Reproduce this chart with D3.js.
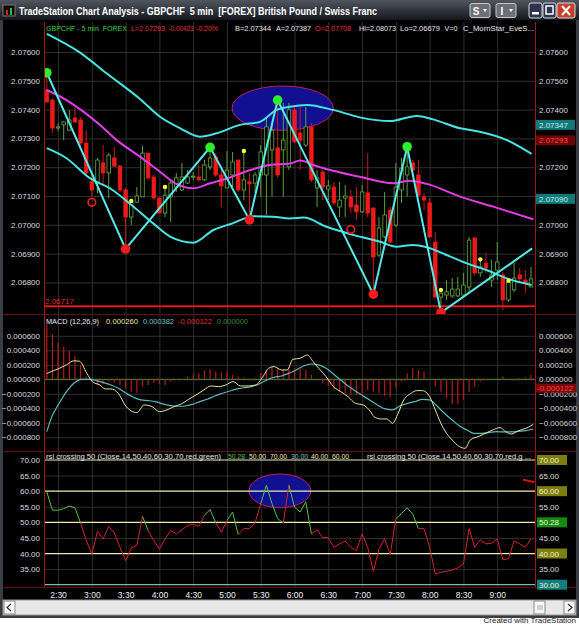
<!DOCTYPE html>
<html>
<head>
<meta charset="utf-8">
<script src="https://cdn.jsdelivr.net/npm/d3@7"></script>
<style>
body { margin: 0; background: #fff; overflow: hidden; }
svg text { font-family: "Liberation Sans", Arial, sans-serif; white-space: pre; }
</style>
</head>
<body>
<div id="chart"></div>
<script>
// ---- data ----
const tickLabels = ['2:30', '3:00', '3:30', '4:00', '4:30', '5:00', '5:30', '6:00', '6:30', '7:00', '7:30', '8:00', '8:30', '9:00'];
const tickBars = [2, 8, 14, 20, 26, 32, 38, 44, 50, 56, 62, 68, 74, 80];

const candleOpen = [
  2.07468, 2.07433, 2.07336, 2.07347, 2.07329, 2.07371, 2.07364, 2.07284, 2.07149, 2.07145,
  2.07215, 2.07180, 2.07232, 2.07204, 2.07121, 2.07027, 2.07079, 2.07097, 2.07249, 2.07166,
  2.07093, 2.07041, 2.07097, 2.07131, 2.07121, 2.07145, 2.07166, 2.07166, 2.07156, 2.07201,
  2.07236, 2.07173, 2.07128, 2.07173, 2.07225, 2.07121, 2.07149, 2.07145, 2.07173, 2.07173,
  2.07260, 2.07267, 2.07260, 2.07201, 2.07399, 2.07319, 2.07277, 2.07340, 2.07128, 2.07183,
  2.07124, 2.07131, 2.07062, 2.07093, 2.07097, 2.07069, 2.07045, 2.07111, 2.07058, 2.06895,
  2.06958, 2.07051, 2.06999, 2.07121, 2.07173, 2.07215, 2.07173, 2.07097, 2.07076, 2.06940,
  2.06749, 2.06756, 2.06753, 2.06753, 2.06756, 2.06784, 2.06954, 2.06833, 2.06867, 2.06808,
  2.06843, 2.06826, 2.06739, 2.06774, 2.06826, 2.06808, 2.06784];
const candleHigh = [
  2.07527, 2.07440, 2.07353, 2.07360, 2.07399, 2.07409, 2.07374, 2.07329, 2.07173, 2.07232,
  2.07277, 2.07249, 2.07270, 2.07208, 2.07128, 2.07083, 2.07131, 2.07274, 2.07249, 2.07173,
  2.07097, 2.07131, 2.07156, 2.07180, 2.07215, 2.07190, 2.07183, 2.07208, 2.07225, 2.07270,
  2.07249, 2.07190, 2.07256, 2.07253, 2.07225, 2.07256, 2.07180, 2.07183, 2.07277, 2.07374,
  2.07353, 2.07433, 2.07423, 2.07423, 2.07409, 2.07409, 2.07409, 2.07353, 2.07190, 2.07190,
  2.07156, 2.07149, 2.07149, 2.07138, 2.07121, 2.07131, 2.07138, 2.07249, 2.07062, 2.07027,
  2.07114, 2.07062, 2.07215, 2.07232, 2.07270, 2.07225, 2.07225, 2.07110, 2.07093, 2.06975,
  2.06774, 2.06808, 2.06815, 2.06819, 2.06833, 2.06958, 2.06958, 2.06882, 2.06902, 2.06878,
  2.06940, 2.06836, 2.06808, 2.06867, 2.06850, 2.06843, 2.06854];
const candleLow = [
  2.07423, 2.07319, 2.07326, 2.07294, 2.07326, 2.07353, 2.07277, 2.07173, 2.07097, 2.07110,
  2.07138, 2.07093, 2.07201, 2.07114, 2.06926, 2.06999, 2.07076, 2.07097, 2.07156, 2.07086,
  2.07038, 2.07027, 2.07010, 2.07114, 2.07117, 2.07142, 2.07156, 2.07149, 2.07152, 2.07190,
  2.07166, 2.07062, 2.07128, 2.07131, 2.07114, 2.07086, 2.07031, 2.07110, 2.07097, 2.07034,
  2.07097, 2.07163, 2.07097, 2.07190, 2.07284, 2.07190, 2.07270, 2.07149, 2.07062, 2.07086,
  2.07086, 2.07069, 2.07027, 2.07027, 2.07041, 2.07017, 2.07041, 2.07027, 2.06774, 2.06888,
  2.06954, 2.06937, 2.06993, 2.07076, 2.07097, 2.07166, 2.07097, 2.07051, 2.06954, 2.06746,
  2.06697, 2.06739, 2.06746, 2.06749, 2.06749, 2.06763, 2.06826, 2.06819, 2.06833, 2.06784,
  2.06808, 2.06704, 2.06732, 2.06767, 2.06801, 2.06763, 2.06784];
const candleClose = [
  2.07427, 2.07336, 2.07340, 2.07357, 2.07364, 2.07357, 2.07284, 2.07180, 2.07121, 2.07225,
  2.07180, 2.07242, 2.07204, 2.07121, 2.07027, 2.07079, 2.07100, 2.07249, 2.07163, 2.07093,
  2.07041, 2.07103, 2.07145, 2.07163, 2.07166, 2.07166, 2.07169, 2.07156, 2.07208, 2.07232,
  2.07173, 2.07135, 2.07190, 2.07218, 2.07121, 2.07156, 2.07142, 2.07173, 2.07253, 2.07340,
  2.07329, 2.07173, 2.07294, 2.07399, 2.07288, 2.07294, 2.07340, 2.07156, 2.07163, 2.07131,
  2.07135, 2.07076, 2.07086, 2.07100, 2.07062, 2.07045, 2.07114, 2.07041, 2.06888, 2.06989,
  2.07034, 2.06940, 2.07131, 2.07197, 2.07201, 2.07190, 2.07103, 2.07086, 2.06958, 2.06749,
  2.06763, 2.06767, 2.06777, 2.06777, 2.06791, 2.06947, 2.06833, 2.06854, 2.06850, 2.06826,
  2.06871, 2.06739, 2.06801, 2.06815, 2.06812, 2.06798, 2.06812];

// [bar, price] samples
const upperBand = [[0, 2.07663], [5.9, 2.07598], [10.6, 2.07526], [16.6, 2.07436], [20.1, 2.07375], [23.7, 2.07335],
  [27.2, 2.07306], [30.2, 2.07318], [34.3, 2.07347], [37.9, 2.07358], [40.8, 2.07399], [43.2, 2.07410], [46.2, 2.07416],
  [50.8, 2.07399], [55.6, 2.07373], [60.9, 2.07360], [65.7, 2.07378], [68.6, 2.07366], [73.4, 2.07335], [76.9, 2.07323],
  [81.7, 2.07294], [86.1, 2.07246]];
const lowerBand = [[0, 2.07266], [3.5, 2.07231], [7.7, 2.07161], [11.2, 2.07127], [15.4, 2.07063], [18.9, 2.07005],
  [21.9, 2.06959], [26, 2.06938], [29.6, 2.06982], [33, 2.07005], [36.7, 2.07030], [40.2, 2.07028], [43.2, 2.07022],
  [45.6, 2.07025], [49.7, 2.06993], [54.4, 2.06965], [59.2, 2.06941], [62.1, 2.06924], [65, 2.06930], [67.5, 2.06922],
  [71, 2.06895], [74.6, 2.06866], [78.1, 2.06843], [81.7, 2.06814], [86.1, 2.06791]];
const avgLine = [[0, 2.07468], [3.5, 2.07433], [6.5, 2.07393], [9.4, 2.07347], [12.4, 2.07294], [16.6, 2.07236],
  [20.1, 2.07184], [23, 2.07142], [26, 2.07127], [29, 2.07144], [32, 2.07161], [35.5, 2.07186], [39.6, 2.07208],
  [43.2, 2.07213], [45, 2.07223], [47.3, 2.07208], [50.3, 2.07190], [55.6, 2.07167], [61.5, 2.07144], [64.5, 2.07153],
  [67.5, 2.07142], [73.4, 2.07098], [79.3, 2.07063], [86.4, 2.07019]];
const zigzag = [[0, 2.07528], [14, 2.06916], [29, 2.07269], [36, 2.07017], [41, 2.07433], [58, 2.06759],
  [64, 2.07271], [70, 2.06695], [86.2, 2.06918]];
const swingHighBars = [0, 29, 41, 64];
const swingLowBars = [14, 36, 58, 70];
const ringMarks = [[8, 2.07078], [54, 2.06984]];
const yellowMarks = [[15, 2.07083], [21, 2.07131], [35, 2.07256], [70, 2.06774], [77, 2.06880], [82, 2.06806]];
const supportLevel = 2.06717;
const mainHighlight = { bar: 41.9, price: 2.07405, bars: 9, span: 0.00077 };

// MACD, units of 0.0001
const macdLine = [[0, 0.8], [0.9, 1.1], [2.2, 1.5], [3.5, 2.0], [4.8, 2.55], [5.8, 2.5], [7.1, 0.83], [8.1, -0.32],
  [9.4, -0.78], [10.4, -1.33], [11.4, -1.33], [12.7, -1.93], [14.1, -3.77], [16.0, -4.6], [17.3, -3.54], [18.7, -3.77],
  [20.0, -4.46], [21.3, -4.23], [22.6, -3.77], [23.9, -3.40], [25.2, -2.76], [26.5, -2.16], [27.9, -1.47], [29.2, -0.92],
  [30.5, -1.01], [31.8, -0.78], [33.1, -0.32], [34.4, -0.92], [35.8, -0.92], [37.1, -0.78], [38.4, 0.37], [39.4, 1.52],
  [40.4, 1.75], [41.7, 1.29], [42.7, 1.29], [43.7, 2.76], [45.0, 2.90], [46.3, 3.36], [47.3, 2.44], [48.3, 1.52],
  [49.6, 0.37], [50.9, -1.01], [52.2, -1.70], [53.5, -2.39], [54.8, -3.31], [56.2, -3.54], [57.5, -4.46], [58.1, -5.15],
  [59.4, -5.47], [60.4, -5.47], [61.4, -6.07], [62.4, -4.69], [63.4, -2.85], [64.7, -1.93], [65.7, -1.56], [66.7, -1.56],
  [68.0, -2.39], [69.0, -4.23], [70.0, -6.07], [71.0, -7.45], [72.0, -8.37], [73.3, -9.29], [74.3, -9.52], [75.2, -8.37],
  [76.6, -7.91], [77.9, -7.45], [79.2, -6.99], [80.5, -6.67], [81.5, -7.22], [82.5, -7.54], [83.8, -7.08], [85.1, -6.76],
  [86.4, -6.21]];
const signalLine = [[0, -7.22], [0.9, -5.15], [2.2, -3.31], [3.5, -1.70], [4.8, -0.55], [6.2, 0], [7.5, 0], [8.8, -0.18],
  [10.1, -0.46], [11.4, -0.78], [12.7, -1.24], [14.1, -1.93], [15.4, -2.48], [16.7, -2.85], [18.0, -2.94], [19.3, -3.08],
  [20.6, -3.40], [21.9, -3.63], [23.3, -3.72], [24.6, -3.68], [25.9, -3.45], [27.2, -3.08], [28.5, -2.76], [29.8, -2.30],
  [31.2, -1.93], [32.5, -1.61], [33.8, -1.33], [35.1, -1.15], [36.4, -1.01], [37.7, -0.64], [39.1, -0.09], [40.4, 0.28],
  [41.7, 0.46], [43.0, 0.83], [44.3, 1.29], [45.6, 1.84], [46.9, 2.11], [48.3, 1.98], [49.6, 1.52], [50.9, 0.74],
  [52.2, -0.09], [53.5, -0.92], [54.8, -1.61], [56.2, -2.30], [57.5, -2.94], [58.8, -3.59], [60.1, -4.09], [61.4, -4.23],
  [62.7, -3.68], [64.1, -3.31], [65.4, -3.08], [66.7, -2.76], [68.0, -2.85], [69.3, -3.68], [70.6, -4.69], [72.0, -5.61],
  [73.3, -6.44], [74.6, -6.99], [75.9, -7.45], [77.2, -7.45], [78.5, -7.36], [79.8, -7.22], [81.2, -7.26], [82.5, -7.26],
  [83.8, -7.17], [85.1, -7.08], [86.4, -6.85]];
const macdHist = [
  7.49, 6.25, 5.06, 4.51, 3.95, 3.22, 1.98, 0.37, -0.32, -0.78,
  -0.64, -0.32, -0.46, -0.78, -1.24, -1.70, -1.84, -1.01, -0.78, -0.46,
  -0.64, -0.78, -0.32, -0.09, -0.09, 0.37, 0.60, 0.83, 1.20, 1.38,
  1.06, 0.92, 1.06, 0.60, 0.37, 0.23, -0.09, 0.14, 0.83, 1.29,
  1.75, 1.52, 1.29, 1.66, 1.52, 1.38, 1.29, 0.60, -0.18, -0.55,
  -0.92, -1.38, -1.70, -1.93, -2.16, -2.16, -1.93, -1.47, -1.70, -1.93,
  -2.30, -2.48, -1.24, -0.32, 0.83, 1.52, 1.29, 1.06, -0.09, -1.01,
  -1.70, -2.62, -3.40, -3.40, -2.85, -1.70, -1.01, -0.32, -0.09, 0,
  0, 0.37, -0.09, -0.18, 0.14, 0.23, 0.60];
const macdTicks = [0.0006, 0.0004, 0.0002, 0, -0.0002, -0.0004, -0.0006, -0.0008];

const rsiValues = [
  59.8, 53.9, 53.9, 54.4, 55.2, 54.7, 49.8, 44.2, 39.9, 47.1,
  44.7, 48.7, 46.6, 42.0, 37.7, 41.7, 42.6, 51.9, 47.4, 44.2,
  41.5, 44.7, 47.4, 46.3, 47.6, 49.0, 49.4, 48.7, 52.3, 54.1,
  49.9, 46.9, 50.6, 53.3, 46.1, 48.0, 48.0, 49.9, 56.0, 61.9,
  56.0, 51.2, 49.8, 61.9, 54.9, 53.3, 56.6, 46.3, 47.6, 45.1,
  45.1, 42.0, 43.1, 44.0, 42.0, 41.0, 46.3, 42.0, 34.3, 41.5,
  44.7, 39.7, 51.2, 52.8, 54.7, 52.6, 48.0, 48.0, 42.0, 33.4,
  34.0, 34.3, 34.7, 35.4, 36.7, 48.0, 42.0, 44.4, 43.1, 43.3,
  44.7, 38.0, 38.3, 44.0, 43.1, 42.0, 44.7];
const rsiLevels = [70, 60, 50, 40];
const rsiTicks = [70, 65, 60, 55, 50, 45, 40, 35, 30];
const rsiHighlight = { bar: 41.4, value: 60.1, bars: 5.5, span: 5.4 };
const rsiStub = [[84.6, 63.7], [86.6, 62.9]];

// ---- layout ----
const W = 579, H = 625;
const plotL = 44, plotR = 535;
const panels = {
  main: { top: 22, bottom: 314 },
  macd: { top: 315, bottom: 451 },
  rsi: { top: 452, bottom: 587 }
};
const gridColor = '#2e2e2e';
const axisText = '#dcdcdc';

let xScale = d3.scaleLinear().domain([0, 86]).range([46.8, 531]);
let yPrice = d3.scaleLinear().domain([2.068, 2.076]).range([282.4, 52]);
let yMacd = d3.scaleLinear().domain([-8, 6]).range([437.3, 335.8]);
let yRsi = d3.scaleLinear().domain([30, 70]).range([584.7, 460]);

let svg = d3.select('#chart').append('svg')
  .attr('width', W)
  .attr('height', H);

let defs = svg.append('defs');
let tg = defs.append('linearGradient').attr('id', 'titleGrad').attr('x1', 0).attr('y1', 0).attr('x2', 0).attr('y2', 1);
tg.append('stop').attr('offset', '0%').attr('stop-color', '#50555f');
tg.append('stop').attr('offset', '100%').attr('stop-color', '#14171d');

Object.entries(panels).forEach(([k, p]) => {
  defs.append('clipPath').attr('id', 'clip-' + k)
    .append('rect')
    .attr('x', plotL).attr('y', p.top)
    .attr('width', plotR - plotL).attr('height', p.bottom - p.top);
});

// window
svg.append('rect').attr('width', W).attr('height', H).attr('fill', '#fff');
svg.append('rect').attr('width', W).attr('height', 618).attr('fill', '#3a3d44');
svg.append('rect').attr('x', 3).attr('y', 20).attr('width', W - 6).attr('height', 580).attr('fill', '#000');
svg.append('rect').attr('width', W).attr('height', 20).attr('fill', 'url(#titleGrad)');

// title bar
let icon = svg.append('g');
icon.append('rect').attr('x', 3).attr('y', 5).attr('width', 12).attr('height', 11).attr('fill', '#0c0c0c').attr('stroke', '#777');
icon.append('rect').attr('x', 6).attr('y', 10).attr('width', 2).attr('height', 5).attr('fill', '#d02020');
icon.append('rect').attr('x', 10).attr('y', 8).attr('width', 2).attr('height', 7).attr('fill', '#30c030');
svg.append('text')
  .attr('x', 19).attr('y', 14.5)
  .attr('fill', '#fff').attr('font-size', 11).attr('font-weight', 'bold')
  .attr('textLength', 358).attr('lengthAdjust', 'spacingAndGlyphs')
  .text('TradeStation Chart Analysis - GBPCHF  5 min  [FOREX] British Pound / Swiss Franc');

[['S', 470], ['I', 496]].forEach(([t, x]) => {
  let b = svg.append('g');
  b.append('rect').attr('x', x).attr('y', 3.5).attr('width', 20).attr('height', 14).attr('rx', 2)
    .attr('fill', '#6d6f74').attr('stroke', '#c8c8c8');
  b.append('text').attr('x', x + 6).attr('y', 14.5).attr('text-anchor', 'middle')
    .attr('fill', '#fff').attr('font-size', 10).attr('font-weight', 'bold').text(t);
  b.append('path').attr('d', `M${x + 13},9 l4,0 l-2,3 z`).attr('fill', '#fff');
});
[[529, '#2c3550'], [543, '#2c3550'], [557, '#c8402c']].forEach(([x, c], i) => {
  svg.append('rect').attr('x', x).attr('y', 3).attr('width', i == 2 ? 18 : 13).attr('height', 15).attr('rx', 2)
    .attr('fill', c).attr('stroke', '#d8d8d8');
});
svg.append('rect').attr('x', 532).attr('y', 12).attr('width', 7).attr('height', 2.5).attr('fill', '#fff');
svg.append('rect').attr('x', 546).attr('y', 6).attr('width', 7).attr('height', 8).attr('fill', 'none').attr('stroke', '#fff').attr('stroke-width', 1.5);
svg.append('path').attr('d', 'M562,6 L570,15 M570,6 L562,15').attr('stroke', '#fff').attr('stroke-width', 2);

// panel frames
Object.values(panels).forEach(p => {
  svg.append('line').attr('x1', 3).attr('x2', W - 3).attr('y1', p.bottom + 0.5).attr('y2', p.bottom + 0.5)
    .attr('stroke', '#6a0c0c').attr('stroke-width', 1);
});

function drawXGrid(p) {
  svg.append('g')
    .attr('transform', `translate(0, ${p.bottom})`)
    .call(d3.axisBottom(xScale).tickValues(tickBars).tickSize(-(p.bottom - p.top)).tickFormat(''))
    .call(g => g.select('.domain').remove())
    .call(g => g.selectAll('line').attr('stroke', gridColor));
}

function drawYGrid(p, scale, ticks) {
  svg.append('g')
    .attr('transform', `translate(${plotL}, 0)`)
    .call(d3.axisRight(scale).tickValues(ticks).tickSize(plotR - plotL).tickFormat(''))
    .call(g => g.select('.domain').remove())
    .call(g => g.selectAll('line').attr('stroke', gridColor));
}

function drawYLabels(scale, ticks, fmt, side) {
  let axis = side == 'left'
    ? d3.axisLeft(scale).tickValues(ticks).tickSize(0).tickPadding(3).tickFormat(fmt)
    : d3.axisRight(scale).tickValues(ticks).tickSize(0).tickPadding(4).tickFormat(fmt);
  svg.append('g')
    .attr('transform', `translate(${side == 'left' ? plotL - 1 : plotR}, 0)`)
    .call(axis)
    .call(g => g.select('.domain').remove())
    .call(g => g.selectAll('text').attr('fill', axisText).attr('font-size', 8)
      .attr('font-family', '"Liberation Sans", Arial, sans-serif'));
}

// a row of coloured label pieces, each squeezed to the width it has in the screenshot
function labelRow(items, y) {
  svg.append('g').selectAll('text')
    .data(items)
    .join('text')
    .attr('x', d => d[1]).attr('y', y)
    .attr('fill', d => d[3]).attr('font-size', 8)
    .attr('textLength', d => d[2]).attr('lengthAdjust', 'spacingAndGlyphs')
    .text(d => d[0]);
}

function valueBox(y, label, bg, fg) {
  svg.append('rect').attr('x', 536).attr('y', y - 5).attr('width', 39).attr('height', 10).attr('fill', bg);
  svg.append('text').attr('x', 539).attr('y', y + 3).attr('fill', fg).attr('font-size', 8).text(label);
}

// ---- main price panel ----
let priceTicks = d3.range(2.068, 2.07601, 0.001);
drawXGrid(panels.main);
drawYGrid(panels.main, yPrice, priceTicks);

let mainG = svg.append('g').attr('clip-path', 'url(#clip-main)');

mainG.append('ellipse')
  .attr('cx', xScale(mainHighlight.bar))
  .attr('cy', yPrice(mainHighlight.price))
  .attr('rx', xScale(mainHighlight.bars) - xScale(0))
  .attr('ry', yPrice(0) - yPrice(mainHighlight.span))
  .attr('fill', '#101090')
  .attr('stroke', '#c02060')
  .attr('stroke-width', 1);

mainG.append('line')
  .attr('x1', plotL).attr('x2', plotR)
  .attr('y1', yPrice(supportLevel)).attr('y2', yPrice(supportLevel))
  .attr('stroke', '#e81414').attr('stroke-width', 2);

let bars = d3.range(candleOpen.length);
let isUp = i => candleClose[i] >= candleOpen[i];

mainG.selectAll('.wick')
  .data(bars)
  .join('line')
  .attr('class', 'wick')
  .attr('x1', i => xScale(i)).attr('x2', i => xScale(i))
  .attr('y1', i => yPrice(candleHigh[i])).attr('y2', i => yPrice(candleLow[i]))
  .attr('stroke', i => isUp(i) ? '#5f9e3c' : '#c81818')
  .attr('stroke-width', 1);

mainG.selectAll('.body')
  .data(bars)
  .join('rect')
  .attr('class', 'body')
  .attr('x', i => xScale(i) - 1.75)
  .attr('width', 3.5)
  .attr('y', i => yPrice(Math.max(candleOpen[i], candleClose[i])))
  .attr('height', i => Math.max(1, Math.abs(yPrice(candleOpen[i]) - yPrice(candleClose[i]))))
  .attr('fill', i => isUp(i) ? '#000' : '#ee1a1a')
  .attr('stroke', i => isUp(i) ? '#66a842' : '#ee1a1a')
  .attr('stroke-width', 0.8);

let bandLine = d3.line()
  .x(d => xScale(d[0]))
  .y(d => yPrice(d[1]))
  .curve(d3.curveMonotoneX);

[[upperBand, '#48e4e4'], [lowerBand, '#48e4e4'], [avgLine, '#e23ce2']].forEach(([data, color]) => {
  mainG.append('path')
    .datum(data)
    .attr('d', bandLine)
    .attr('fill', 'none')
    .attr('stroke', color)
    .attr('stroke-width', 2);
});

mainG.append('path')
  .datum(zigzag)
  .attr('d', d3.line().x(d => xScale(d[0])).y(d => yPrice(d[1])))
  .attr('fill', 'none')
  .attr('stroke', '#58e8ea')
  .attr('stroke-width', 2);

let pivotPrice = i => zigzag.find(d => d[0] == i)[1];

mainG.selectAll('.ring')
  .data(ringMarks)
  .join('circle')
  .attr('cx', d => xScale(d[0])).attr('cy', d => yPrice(d[1]))
  .attr('r', 3.8)
  .attr('fill', 'none').attr('stroke', '#ee2020').attr('stroke-width', 1.6);

mainG.selectAll('.yellow')
  .data(yellowMarks)
  .join('circle')
  .attr('cx', d => xScale(d[0])).attr('cy', d => yPrice(d[1]))
  .attr('r', 2.2)
  .attr('fill', '#ffff3a');

mainG.selectAll('.swingLow')
  .data(swingLowBars)
  .join('circle')
  .attr('cx', i => xScale(i)).attr('cy', i => yPrice(pivotPrice(i)))
  .attr('r', 4.8)
  .attr('fill', '#f01c1c');

mainG.selectAll('.swingHigh')
  .data(swingHighBars)
  .join('circle')
  .attr('cx', i => xScale(i)).attr('cy', i => yPrice(pivotPrice(i)))
  .attr('r', 4.8)
  .attr('fill', '#2cf02c');

mainG.append('text')
  .attr('x', 45).attr('y', yPrice(supportLevel) - 2)
  .attr('fill', '#e02828').attr('font-size', 8)
  .text(supportLevel.toFixed(5));

// status line: [text, x, width, colour]
labelRow([
  ['GBPCHF - 5 min  FOREX', 46, 81, '#3cd23c'],
  ['L=2.07293', 131, 34, '#e83030'],
  ['-0.00423', 168.5, 25, '#e83030'],
  ['-0.20%', 196, 22, '#e83030'],
  ['B=2.07344', 235, 36, '#e8e8e8'],
  ['A=2.07387', 276, 35, '#e8e8e8'],
  ['O=2.07708', 315, 36, '#e83030'],
  ['Hi=2.08073', 359, 37, '#e8e8e8'],
  ['Lo=2.06679', 400, 40, '#e8e8e8'],
  ['V=0', 444.5, 13, '#e8e8e8'],
  ['C_MornStar_EveS...', 463, 71, '#e8e8e8']
], 31);

drawYLabels(yPrice, priceTicks, d3.format('.5f'), 'left');
drawYLabels(yPrice, priceTicks, d3.format('.5f'), 'right');
valueBox(yPrice(2.07347), '2.07347', '#127878', '#bfeeee');
valueBox(yPrice(2.07293), '2.07293', '#6e0606', '#ff4a4a');
valueBox(yPrice(2.07090), '2.07090', '#127878', '#bfeeee');

// ---- MACD panel ----
let macdTickUnits = macdTicks.map(v => v * 10000);
drawXGrid(panels.macd);
drawYGrid(panels.macd, yMacd, macdTickUnits);

let macdG = svg.append('g').attr('clip-path', 'url(#clip-macd)');
macdG.append('line')
  .attr('x1', plotL).attr('x2', plotR)
  .attr('y1', yMacd(0)).attr('y2', yMacd(0))
  .attr('stroke', '#4c8a3a').attr('stroke-width', 1);

macdG.selectAll('.hist')
  .data(macdHist)
  .join('line')
  .attr('x1', (d, i) => xScale(i)).attr('x2', (d, i) => xScale(i))
  .attr('y1', yMacd(0)).attr('y2', d => yMacd(d))
  .attr('stroke', '#a81c1c').attr('stroke-width', 1.3);

let macdPath = d3.line()
  .x(d => xScale(d[0]))
  .y(d => yMacd(d[1]))
  .curve(d3.curveMonotoneX);

macdG.append('path').datum(signalLine).attr('d', macdPath)
  .attr('fill', 'none').attr('stroke', '#5cb8bc').attr('stroke-width', 1.2);
macdG.append('path').datum(macdLine).attr('d', macdPath)
  .attr('fill', 'none').attr('stroke', '#e6e69a').attr('stroke-width', 1);

labelRow([
  ['MACD (12,26,9)', 46, 53, '#e8e8e8'],
  ['0.000260', 106, 32, '#e6e69a'],
  ['0.000382', 143, 31, '#6cc8cc'],
  ['-0.000122', 178, 34, '#e03030'],
  ['0.000000', 217, 31, '#3c8a3c']
], 324);

drawYLabels(yMacd, macdTickUnits, d => d3.format('.6f')(d / 10000), 'left');
drawYLabels(yMacd, macdTickUnits, d => d3.format('.6f')(d / 10000), 'right');
svg.append('rect').attr('x', 536).attr('y', yMacd(-1.22) - 4.5).attr('width', 40).attr('height', 9).attr('fill', '#7a0808');
svg.append('text').attr('x', 537).attr('y', yMacd(-1.22) + 3).attr('fill', '#ff4040').attr('font-size', 8).text('-0.000122');

// ---- RSI panel ----
drawXGrid(panels.rsi);
drawYGrid(panels.rsi, yRsi, [65, 55, 45, 35]);

let rsiG = svg.append('g').attr('clip-path', 'url(#clip-rsi)');

rsiG.append('ellipse')
  .attr('cx', xScale(rsiHighlight.bar))
  .attr('cy', yRsi(rsiHighlight.value))
  .attr('rx', xScale(rsiHighlight.bars) - xScale(0))
  .attr('ry', yRsi(0) - yRsi(rsiHighlight.span))
  .attr('fill', '#101090')
  .attr('stroke', '#c02060')
  .attr('stroke-width', 1);

rsiG.selectAll('.level')
  .data(rsiLevels)
  .join('line')
  .attr('x1', plotL).attr('x2', plotR)
  .attr('y1', d => yRsi(d)).attr('y2', d => yRsi(d))
  .attr('stroke', '#ecebb4').attr('stroke-width', 1.2);
rsiG.append('line')
  .attr('x1', plotL).attr('x2', plotR)
  .attr('y1', yRsi(30)).attr('y2', yRsi(30))
  .attr('stroke', '#7ab8b8').attr('stroke-width', 1.2);

let rsiSegs = rsiValues.slice(1).map((v, i) => ({ a: i, b: i + 1, v0: rsiValues[i], v1: v }));
rsiG.selectAll('.rsiSeg')
  .data(rsiSegs)
  .join('line')
  .attr('x1', d => xScale(d.a)).attr('x2', d => xScale(d.b))
  .attr('y1', d => yRsi(d.v0)).attr('y2', d => yRsi(d.v1))
  .attr('stroke', d => d.v0 > 50 ? '#58c048' : '#d42424')
  .attr('stroke-width', 1);

rsiG.append('path')
  .datum(rsiStub)
  .attr('d', d3.line().x(d => xScale(d[0])).y(d => yRsi(d[1])))
  .attr('stroke', '#e01818').attr('stroke-width', 2).attr('fill', 'none');

labelRow([
  ['rsi crossing 50 (Close,14,50,40,60,30,70,red,green)', 46, 175, '#e8e8e8'],
  ['50.28', 228, 17, '#50c850'],
  ['50.00', 249, 17, '#ecebb4'],
  ['70.00', 270, 17, '#ecebb4'],
  ['30.00', 291, 17, '#7ac8c8'],
  ['40.00', 311, 17, '#ecebb4'],
  ['60.00', 332, 17, '#ecebb4'],
  ['rsi crossing 50 (Close,14,50,40,60,30,70,red,g ...', 367, 164, '#e8e8e8']
], 459);

drawYLabels(yRsi, rsiTicks.filter(d => d < 70 && d > 30), d3.format('.2f'), 'left');
svg.append('text').attr('x', plotL - 4).attr('y', yRsi(70) + 3).attr('text-anchor', 'end')
  .attr('fill', axisText).attr('font-size', 8).text('70.00');
drawYLabels(yRsi, [65, 55, 45, 35], d3.format('.2f'), 'right');
[[70, '70.00', '#7d7d10'], [60, '60.00', '#7d7d10'], [50, '50.28', '#148a14'], [40, '40.00', '#7d7d10'], [30, '30.00', '#127e7e']]
  .forEach(([v, t, c]) => {
    svg.append('rect').attr('x', 537).attr('y', yRsi(v) - 5).attr('width', 30).attr('height', 10).attr('fill', c);
    svg.append('text').attr('x', 539).attr('y', yRsi(v) + 3).attr('fill', '#f2f2c8').attr('font-size', 8).text(t);
  });

// time axis
svg.append('g')
  .attr('transform', `translate(0, ${panels.rsi.bottom + 1})`)
  .call(d3.axisBottom(xScale).tickValues(tickBars).tickSize(0).tickPadding(4).tickFormat((d, i) => tickLabels[i]))
  .call(g => g.select('.domain').remove())
  .call(g => g.selectAll('text').attr('fill', '#f0f0f0').attr('font-size', 8.5)
    .attr('font-family', '"Liberation Sans", Arial, sans-serif'));

// panel side borders
Object.values(panels).forEach(p => {
  [plotL, plotR].forEach(x => {
    svg.append('line').attr('x1', x + 0.5).attr('x2', x + 0.5).attr('y1', p.top).attr('y2', p.bottom)
      .attr('stroke', '#a01414').attr('stroke-width', 1);
  });
});

// scrollbar + footer
svg.append('rect').attr('x', 3).attr('y', 600).attr('width', W - 6).attr('height', 15).attr('fill', '#e8e8e8').attr('stroke', '#9a9a9a');
svg.append('rect').attr('x', 4).attr('y', 601).attr('width', 11).attr('height', 13).attr('fill', '#f6f6f6').attr('stroke', '#8a8a8a');
svg.append('path').attr('d', 'M11,604 L7,607.5 L11,611').attr('fill', 'none').attr('stroke', '#333').attr('stroke-width', 1.2);
svg.append('rect').attr('x', 534).attr('y', 601).attr('width', 11).attr('height', 13).attr('fill', '#f6f6f6').attr('stroke', '#8a8a8a');
svg.append('path').attr('d', 'M538,605 v5 M540,605 v5 M542,605 v5').attr('stroke', '#999').attr('stroke-width', 0.8);
svg.append('rect').attr('x', 564).attr('y', 601).attr('width', 11).attr('height', 13).attr('fill', '#f6f6f6').attr('stroke', '#8a8a8a');
svg.append('path').attr('d', 'M568,604 L572,607.5 L568,611').attr('fill', 'none').attr('stroke', '#333').attr('stroke-width', 1.2);
svg.append('text').attr('x', 576).attr('y', 623).attr('text-anchor', 'end')
  .attr('fill', '#222').attr('font-size', 8).text('Created with TradeStation');
</script>
</body>
</html>
